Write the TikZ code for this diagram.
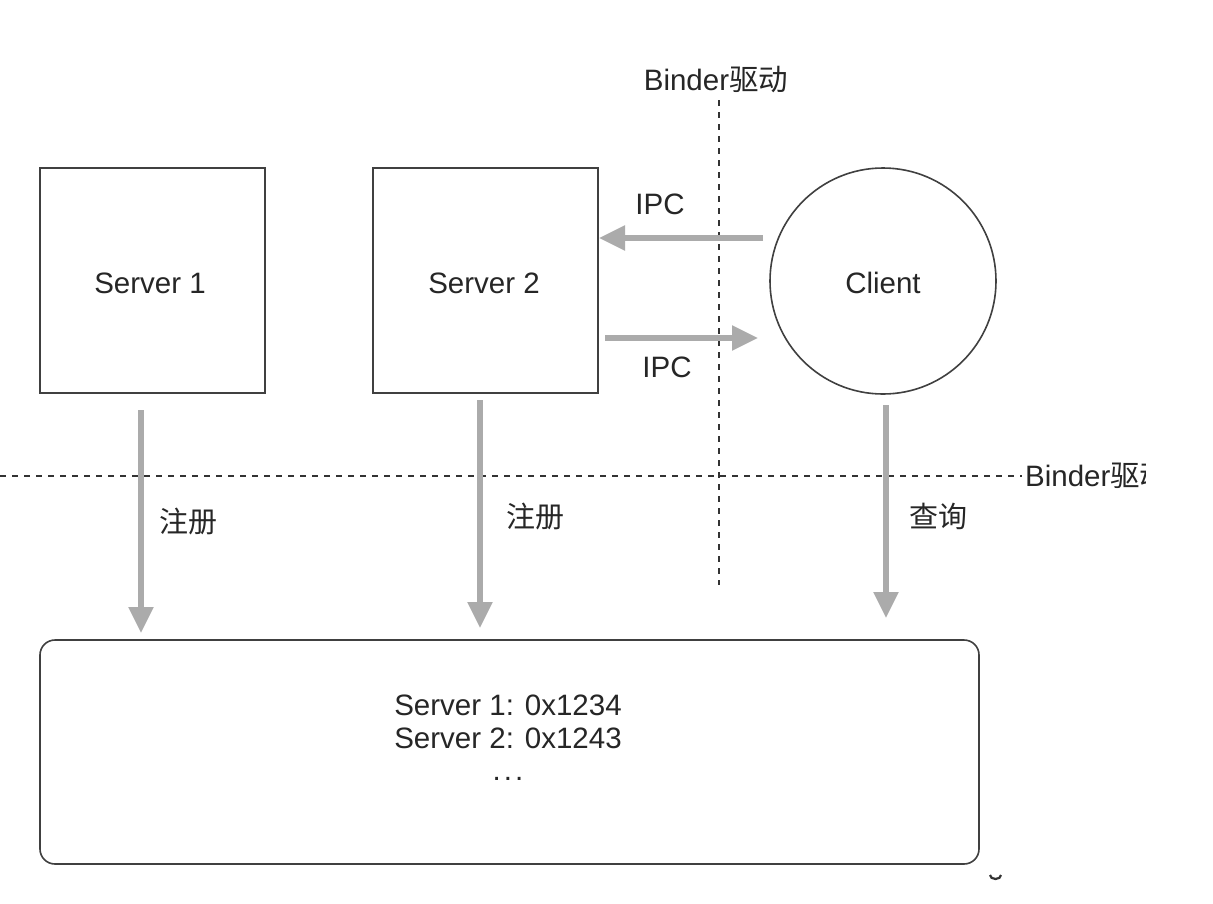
\documentclass[tikz,border=0pt]{standalone}
\usepackage{fontspec}
\setmainfont{Liberation Sans}
\newfontfamily\cjk{Noto Sans CJK SC}
\usetikzlibrary{arrows.meta}
\begin{document}
\begin{tikzpicture}[x=1pt,y=-1pt,
  box/.style={draw=black!75,line width=1.6pt},
  gar/.style={draw=black!33,line width=5.5pt,-{Triangle[length=26pt,width=24pt]}},
  dsh/.style={draw=black!80,line width=1.6pt,dash pattern=on 6pt off 6pt},
  lbl/.style={font=\fontsize{29.5}{32}\selectfont,text=black!85,inner sep=0pt},
  clbl/.style={font=\cjk\fontsize{29}{32}\selectfont,text=black!85,inner sep=0pt}]
\useasboundingbox (0,0) rectangle (1213,903);
\fill[white] (0,0) rectangle (1213,903);
% dashed lines
\coordinate (vt) at (719,100);
\coordinate (vb) at (719,585);
\coordinate (hl) at (0,476);
\coordinate (hr) at (1022,476);
\draw[dsh] (vt) -- (vb);
\draw[dsh] (hl) -- (hr);
\node[lbl,anchor=south] (bdtop) at (716,93) {Binder{\cjk 驱动}};
\begin{scope}
\clip (1000,440) rectangle (1145,510);
\node[lbl,anchor=west,inner sep=1pt] (bdright) at (1024,476) {Binder{\cjk 驱动}};
\end{scope}
% boxes
\node[box,minimum width=225pt,minimum height=225pt,draw=black!75,line width=1.6pt] (s1) at (152.5,280.5) {};
\node[lbl] (s1t) at (150,283) {Server 1};
\node[box,minimum width=225pt,minimum height=225pt,draw=black!75,line width=1.6pt] (s2) at (485.5,280.5) {};
\node[lbl] (s2t) at (484,283) {Server 2};
\node[box,circle,minimum size=226pt,draw=black!75,line width=1.6pt] (cl) at (883,281) {};
\node[lbl] (clt) at (883,283) {Client};
\node[box,rounded corners=15pt,minimum width=939pt,minimum height=224pt,draw=black!75,line width=1.6pt] (sm) at (509.5,752) {};
\node[lbl,align=center,font=\fontsize{29.5}{33}\selectfont] (tab) at (508,738) {Server 1: 0x1234\\Server 2: 0x1243\\\raisebox{1pt}{.\hspace{3pt}.\hspace{3pt}.}};
% IPC arrows
\coordinate (a1s) at (763,238);
\coordinate (a1e) at (599,238);
\coordinate (a2s) at (605,338);
\coordinate (a2e) at (758,338);
\draw[gar] (a1s) -- (a1e);
\draw[gar] (a2s) -- (a2e);
\node[lbl] (ipc1) at (660,204) {IPC};
\node[lbl] (ipc2) at (667,367) {IPC};
% down arrows
\coordinate (d1s) at (141,410);
\coordinate (d1e) at (141,633);
\coordinate (d2s) at (480,400);
\coordinate (d2e) at (480,628);
\coordinate (d3s) at (886,405);
\coordinate (d3e) at (886,618);
\draw[gar] (d1s) -- (d1e);
\draw[gar] (d2s) -- (d2e);
\draw[gar] (d3s) -- (d3e);
\node[clbl] (r1) at (188,521) {注册};
\node[clbl] (r2) at (535,516) {注册};
\node[clbl] (q) at (938,516) {查询};
% small mark
\coordinate (mk) at (990,875);
\draw[black!80,line width=2.2pt] (mk) arc[start angle=180,end angle=360,x radius=5.5pt,y radius=4pt];
\end{tikzpicture}
\end{document}
